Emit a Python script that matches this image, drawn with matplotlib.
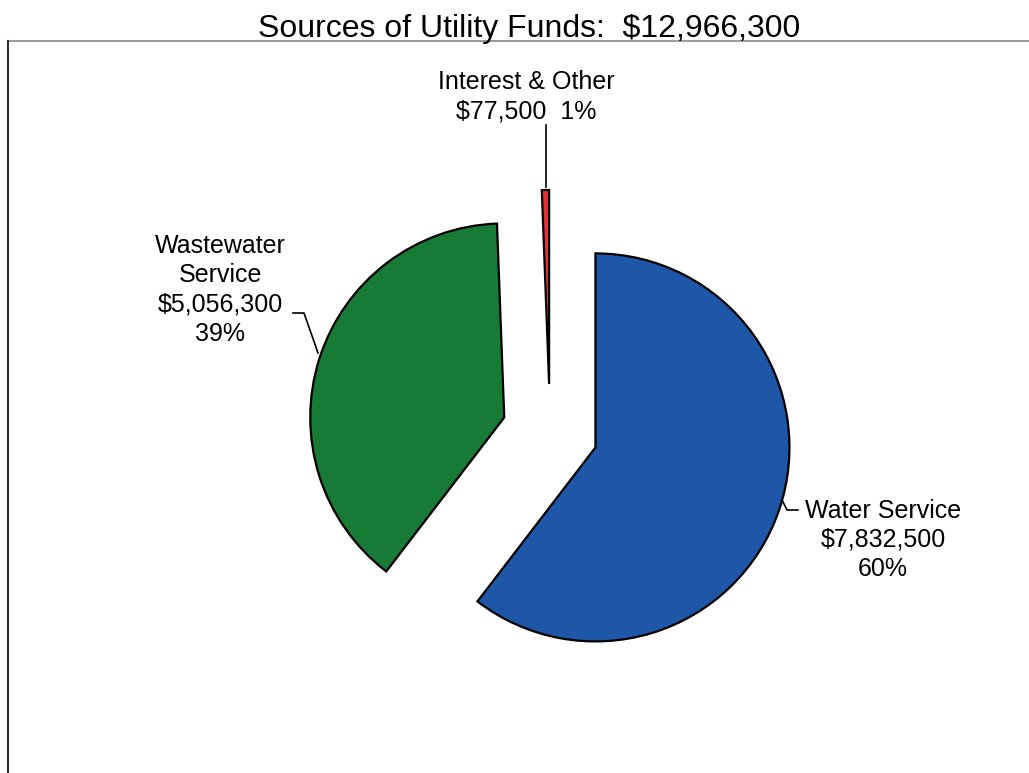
import matplotlib.pyplot as plt

plt.rcParams['font.family'] = ['Liberation Sans', 'DejaVu Sans']

# fund sources
sources = ['Water Service', 'Wastewater\nService', 'Interest & Other']
amounts = [7832500, 5056300, 77500]
colors = ['#1f57a8', '#177a35', '#e2323c']
total = sum(amounts)

W, H = 1029, 773

fig = plt.figure(figsize=(W / 100, H / 100), dpi=100)
ax = fig.add_axes([0, 0, 1, 1])

# explode is in data units here (pixels), not a fraction of the radius
ax.pie(amounts, colors=colors, startangle=90, counterclock=False,
       explode=[48] * 3, center=(550, H - 432), radius=194,
       wedgeprops=dict(edgecolor='black', linewidth=1.6))

# pie() rescales the axes, so fix the pixel-sized limits afterwards
ax.set_xlim(0, W)
ax.set_ylim(0, H)
ax.set_aspect('equal')
ax.axis('off')

# chart area border (only top and left edges show)
ax.plot([8, W], [H - 41, H - 41], color='#8a8a8a', lw=1.2)
ax.plot([8, 8], [H - 41, 0], color='#333333', lw=1.5)


def label(name, value):
    pct = round(100 * value / total)
    return name, f'${value:,.0f}', f'{pct}%'


# Water Service
n, v, p = label(sources[0], amounts[0])
ax.text(883, H - 540, f'{n}\n{v}\n{p}', ha='center', va='center',
        fontsize=18, linespacing=1.28)
ax.plot([798, 787, 782], [H - 510, H - 510, H - 500], color='black', lw=1.2)

# Wastewater Service
n, v, p = label(sources[1], amounts[1])
ax.text(220, H - 290, f'{n}\n{v}\n{p}', ha='center', va='center',
        fontsize=18, linespacing=1.28)
ax.plot([293, 304, 318], [H - 313, H - 313, H - 353], color='black', lw=1.2)

# Interest & Other
n, v, p = label(sources[2], amounts[2])
ax.text(526, H - 97, f'{n}\n{v}  {p}', ha='center', va='center',
        fontsize=18, linespacing=1.28)
ax.plot([546, 546], [H - 125, H - 187], color='black', lw=1.2)

ax.text(529, H - 29, f'Sources of Utility Funds:  ${total:,.0f}',
        ha='center', va='center', fontsize=23)

fig.savefig('out.png', dpi=100)
